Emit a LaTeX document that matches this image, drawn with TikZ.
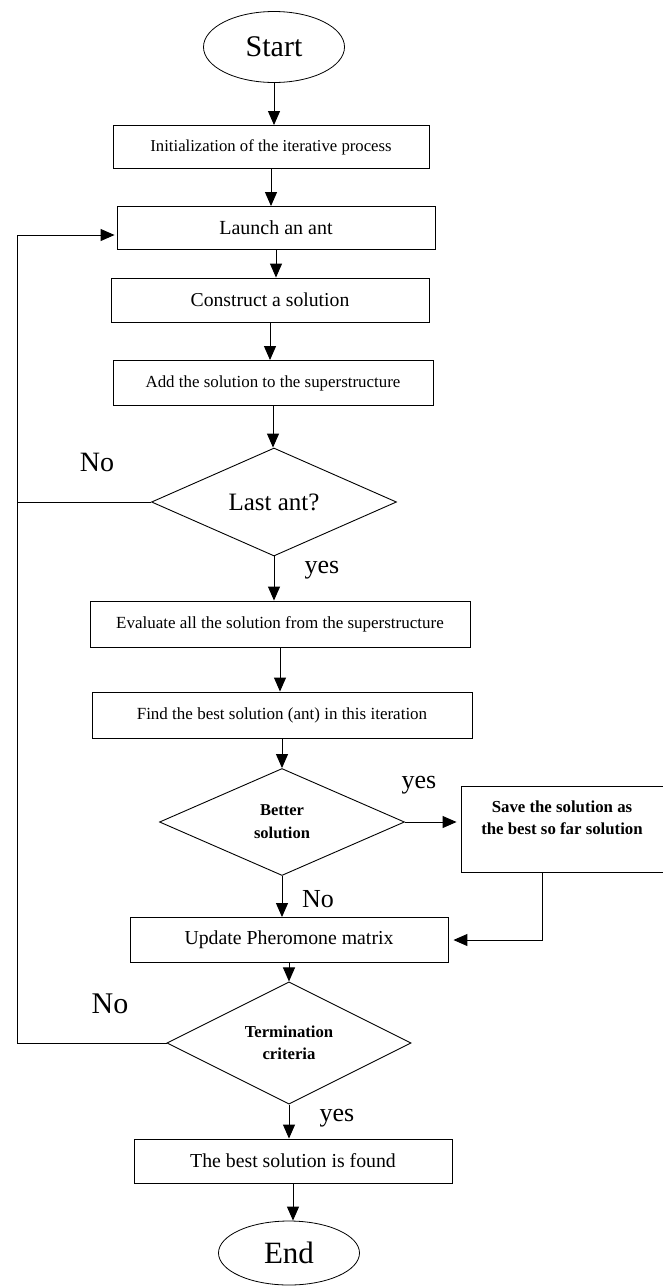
\documentclass[tikz,border=0pt]{standalone}
\usepackage{fontspec}
\setmainfont{Liberation Serif}
\usetikzlibrary{arrows.meta,shapes.geometric}

\begin{document}
\begin{tikzpicture}[x=1pt,y=-1pt,
    blk/.style={draw,line width=0.9pt,rectangle,inner sep=0pt},
    dia/.style={draw,line width=0.9pt,diamond,inner sep=0pt,minimum width=245pt,minimum height=108pt,align=center},
    oval/.style={draw,line width=0.8pt,ellipse,inner sep=0pt,minimum width=141pt},
    lab/.style={inner sep=0pt,font=\fontsize{26}{30}\selectfont},
    arr/.style={line width=1pt,-{Triangle[length=14pt,width=12pt]}}]
            \useasboundingbox (0,0) rectangle (662,1286);
            \node[oval,minimum height=71pt,font=\fontsize{30}{36}\selectfont] (start) at (274,47) {Start};
            \node[blk,minimum width=316pt,minimum height=43pt,font=\fontsize{16.7}{20}\selectfont] (init) at (271,147) {Initialization of the iterative process};
            \node[blk,minimum width=318pt,minimum height=43pt,font=\fontsize{20}{24}\selectfont] (launch) at (276,228) {Launch an ant};
            \node[blk,minimum width=318pt,minimum height=44pt,font=\fontsize{19.7}{24}\selectfont] (construct) at (270,300) {Construct a solution};
            \node[blk,minimum width=320pt,minimum height=45pt,font=\fontsize{16.9}{20}\selectfont] (add) at (273,383) {Add the solution to the superstructure};
            \node[dia,font=\fontsize{25}{30}\selectfont] (last) at (274,502) {Last ant?};
            \node[blk,minimum width=380pt,minimum height=46pt,font=\fontsize{17}{20}\selectfont] (eval) at (280,624) {Evaluate all the solution from the superstructure};
            \node[blk,minimum width=380pt,minimum height=46pt,font=\fontsize{17}{20}\selectfont] (find) at (282,715) {Find the best solution (ant) in this iteration};
            \node[dia,minimum height=107pt,font=\bfseries\fontsize{16.5}{23}\selectfont] (better) at (282,822) {Better\\solution};
            \node[blk,minimum width=202pt,minimum height=86pt,align=center,font=\bfseries\fontsize{16.8}{22}\selectfont] (save) at (562,829) {Save the solution as\\the best so far solution\\\mbox{}};
            \node[blk,minimum width=318pt,minimum height=45pt,font=\fontsize{19.8}{24}\selectfont] (update) at (289,940) {Update Pheromone matrix};
            \node[dia,minimum width=244pt,minimum height=110pt,font=\bfseries\fontsize{16.7}{22}\selectfont] (crit) at (289,1043) {Termination\\criteria};
            \node[blk,minimum width=318pt,minimum height=44pt,font=\fontsize{19.8}{24}\selectfont] (found) at (293,1161) {The best solution is found};
            \node[oval,minimum height=64pt,font=\fontsize{31}{36}\selectfont] (end) at (289,1253) {End};
            \node[lab,font=\fontsize{28}{32}\selectfont] (no1) at (97,462) {No};
            \node[lab] (yes1) at (322,570) {yes};
            \node[lab] (yes2) at (419,785) {yes};
            \node[lab] (no2) at (318,899) {No};
            \node[lab,font=\fontsize{30}{34}\selectfont] (no3) at (110,1004) {No};
            \node[lab] (yes3) at (337,1118) {yes};
            \coordinate (rail) at (17,0);
            \draw[arr] (start.south) -- (start.south |- init.north);
            \draw[arr] (init.south) -- (init.south |- launch.north);
            \draw[arr] (launch.south) -- (launch.south |- construct.north);
            \draw[arr] (construct.south) -- (construct.south |- add.north);
            \draw[arr] (add.south) -- (add.south |- last.north);
            \draw[arr] (last.south) -- (last.south |- eval.north);
            \draw[arr] (eval.south) -- (eval.south |- find.north);
            \draw[arr] (find.south) -- (find.south |- better.north);
            \draw[arr,shorten >=4pt] (better.east) -- (better.east -| save.west);
            \draw[arr] (better.south) -- (better.south |- update.north);
            \draw[arr,shorten >=5pt] ([xshift=-20pt]save.south) |- (update.east);
            \draw[arr] (update.south) -- (update.south |- crit.north);
            \draw[arr] (crit.south) -- (crit.south |- found.north);
            \draw[arr] (found.south) -- (found.south |- end.north);
            \draw[arr,shorten >=2pt] (crit.west) -- (crit.west -| rail) |- ([yshift=-7pt]launch.west);
            \draw[line width=1pt] (last.west) -- (last.west -| rail);
        \end{tikzpicture}
\end{document}
